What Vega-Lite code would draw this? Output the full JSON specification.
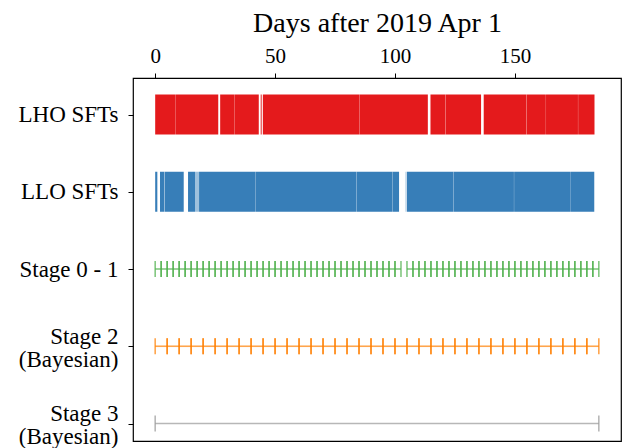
{
  "$schema": "https://vega.github.io/schema/vega-lite/v6.json",
  "autosize": {"type": "none"},
  "padding": {"left": 133, "top": 78, "right": 7, "bottom": 7},
  "width": 488,
  "height": 363,
  "background": "white",
  "config": {
    "view": {"stroke": "black", "strokeWidth": 1.2},
    "font": "Liberation Serif"
  },
  "datasets": {
    "sft": [
      {"track": "LHO SFTs", "start": 0, "end": 8.3},
      {"track": "LHO SFTs", "start": 8.38, "end": 26.3},
      {"track": "LHO SFTs", "start": 27.1, "end": 33.15},
      {"track": "LHO SFTs", "start": 33.23, "end": 43.2},
      {"track": "LHO SFTs", "start": 44.0, "end": 44.4},
      {"track": "LHO SFTs", "start": 44.9, "end": 85.25},
      {"track": "LHO SFTs", "start": 85.33, "end": 113.7},
      {"track": "LHO SFTs", "start": 114.8, "end": 121.0},
      {"track": "LHO SFTs", "start": 121.08, "end": 135.9},
      {"track": "LHO SFTs", "start": 137.0, "end": 154.8},
      {"track": "LHO SFTs", "start": 154.88, "end": 162.9},
      {"track": "LHO SFTs", "start": 162.98, "end": 176.3},
      {"track": "LHO SFTs", "start": 176.38, "end": 183.2},
      {"track": "LLO SFTs", "start": 0, "end": 0.9},
      {"track": "LLO SFTs", "start": 2.0, "end": 3.8},
      {"track": "LLO SFTs", "start": 3.95, "end": 11.9},
      {"track": "LLO SFTs", "start": 13.7, "end": 16.6},
      {"track": "LLO SFTs", "start": 16.75, "end": 16.95},
      {"track": "LLO SFTs", "start": 17.15, "end": 17.35},
      {"track": "LLO SFTs", "start": 17.55, "end": 17.75},
      {"track": "LLO SFTs", "start": 17.95, "end": 18.15},
      {"track": "LLO SFTs", "start": 18.3, "end": 41.9},
      {"track": "LLO SFTs", "start": 41.98, "end": 83.95},
      {"track": "LLO SFTs", "start": 84.03, "end": 99.0},
      {"track": "LLO SFTs", "start": 99.08, "end": 101.7},
      {"track": "LLO SFTs", "start": 104.5, "end": 104.6},
      {"track": "LLO SFTs", "start": 104.9, "end": 124.3},
      {"track": "LLO SFTs", "start": 124.38, "end": 149.6},
      {"track": "LLO SFTs", "start": 149.68, "end": 173.3},
      {"track": "LLO SFTs", "start": 173.38, "end": 183.1}
    ],
    "stages": [
      {"track": "Stage 0 - 1", "start": 0, "end": 2.5},
      {"track": "Stage 0 - 1", "start": 2.5, "end": 5},
      {"track": "Stage 0 - 1", "start": 5, "end": 7.5},
      {"track": "Stage 0 - 1", "start": 7.5, "end": 10},
      {"track": "Stage 0 - 1", "start": 10, "end": 12.5},
      {"track": "Stage 0 - 1", "start": 12.5, "end": 15},
      {"track": "Stage 0 - 1", "start": 15, "end": 17.5},
      {"track": "Stage 0 - 1", "start": 17.5, "end": 20},
      {"track": "Stage 0 - 1", "start": 20, "end": 22.5},
      {"track": "Stage 0 - 1", "start": 22.5, "end": 25},
      {"track": "Stage 0 - 1", "start": 25, "end": 27.5},
      {"track": "Stage 0 - 1", "start": 27.5, "end": 30},
      {"track": "Stage 0 - 1", "start": 30, "end": 32.5},
      {"track": "Stage 0 - 1", "start": 32.5, "end": 35},
      {"track": "Stage 0 - 1", "start": 35, "end": 37.5},
      {"track": "Stage 0 - 1", "start": 37.5, "end": 40},
      {"track": "Stage 0 - 1", "start": 40, "end": 42.5},
      {"track": "Stage 0 - 1", "start": 42.5, "end": 45},
      {"track": "Stage 0 - 1", "start": 45, "end": 47.5},
      {"track": "Stage 0 - 1", "start": 47.5, "end": 50},
      {"track": "Stage 0 - 1", "start": 50, "end": 52.5},
      {"track": "Stage 0 - 1", "start": 52.5, "end": 55},
      {"track": "Stage 0 - 1", "start": 55, "end": 57.5},
      {"track": "Stage 0 - 1", "start": 57.5, "end": 60},
      {"track": "Stage 0 - 1", "start": 60, "end": 62.5},
      {"track": "Stage 0 - 1", "start": 62.5, "end": 65},
      {"track": "Stage 0 - 1", "start": 65, "end": 67.5},
      {"track": "Stage 0 - 1", "start": 67.5, "end": 70},
      {"track": "Stage 0 - 1", "start": 70, "end": 72.5},
      {"track": "Stage 0 - 1", "start": 72.5, "end": 75},
      {"track": "Stage 0 - 1", "start": 75, "end": 77.5},
      {"track": "Stage 0 - 1", "start": 77.5, "end": 80},
      {"track": "Stage 0 - 1", "start": 80, "end": 82.5},
      {"track": "Stage 0 - 1", "start": 82.5, "end": 85},
      {"track": "Stage 0 - 1", "start": 85, "end": 87.5},
      {"track": "Stage 0 - 1", "start": 87.5, "end": 90},
      {"track": "Stage 0 - 1", "start": 90, "end": 92.5},
      {"track": "Stage 0 - 1", "start": 92.5, "end": 95},
      {"track": "Stage 0 - 1", "start": 95, "end": 97.5},
      {"track": "Stage 0 - 1", "start": 97.5, "end": 100},
      {"track": "Stage 0 - 1", "start": 100, "end": 102.5},
      {"track": "Stage 0 - 1", "start": 105, "end": 107.5},
      {"track": "Stage 0 - 1", "start": 107.5, "end": 110},
      {"track": "Stage 0 - 1", "start": 110, "end": 112.5},
      {"track": "Stage 0 - 1", "start": 112.5, "end": 115},
      {"track": "Stage 0 - 1", "start": 115, "end": 117.5},
      {"track": "Stage 0 - 1", "start": 117.5, "end": 120},
      {"track": "Stage 0 - 1", "start": 120, "end": 122.5},
      {"track": "Stage 0 - 1", "start": 122.5, "end": 125},
      {"track": "Stage 0 - 1", "start": 125, "end": 127.5},
      {"track": "Stage 0 - 1", "start": 127.5, "end": 130},
      {"track": "Stage 0 - 1", "start": 130, "end": 132.5},
      {"track": "Stage 0 - 1", "start": 132.5, "end": 135},
      {"track": "Stage 0 - 1", "start": 135, "end": 137.5},
      {"track": "Stage 0 - 1", "start": 137.5, "end": 140},
      {"track": "Stage 0 - 1", "start": 140, "end": 142.5},
      {"track": "Stage 0 - 1", "start": 142.5, "end": 145},
      {"track": "Stage 0 - 1", "start": 145, "end": 147.5},
      {"track": "Stage 0 - 1", "start": 147.5, "end": 150},
      {"track": "Stage 0 - 1", "start": 150, "end": 152.5},
      {"track": "Stage 0 - 1", "start": 152.5, "end": 155},
      {"track": "Stage 0 - 1", "start": 155, "end": 157.5},
      {"track": "Stage 0 - 1", "start": 157.5, "end": 160},
      {"track": "Stage 0 - 1", "start": 160, "end": 162.5},
      {"track": "Stage 0 - 1", "start": 162.5, "end": 165},
      {"track": "Stage 0 - 1", "start": 165, "end": 167.5},
      {"track": "Stage 0 - 1", "start": 167.5, "end": 170},
      {"track": "Stage 0 - 1", "start": 170, "end": 172.5},
      {"track": "Stage 0 - 1", "start": 172.5, "end": 175},
      {"track": "Stage 0 - 1", "start": 175, "end": 177.5},
      {"track": "Stage 0 - 1", "start": 177.5, "end": 180},
      {"track": "Stage 0 - 1", "start": 180, "end": 182.5},
      {"track": "Stage 0 - 1", "start": 182.5, "end": 185},
      {"track": "Stage 2 (Bayesian)", "start": 0, "end": 5},
      {"track": "Stage 2 (Bayesian)", "start": 5, "end": 10},
      {"track": "Stage 2 (Bayesian)", "start": 10, "end": 15},
      {"track": "Stage 2 (Bayesian)", "start": 15, "end": 20},
      {"track": "Stage 2 (Bayesian)", "start": 20, "end": 25},
      {"track": "Stage 2 (Bayesian)", "start": 25, "end": 30},
      {"track": "Stage 2 (Bayesian)", "start": 30, "end": 35},
      {"track": "Stage 2 (Bayesian)", "start": 35, "end": 40},
      {"track": "Stage 2 (Bayesian)", "start": 40, "end": 45},
      {"track": "Stage 2 (Bayesian)", "start": 45, "end": 50},
      {"track": "Stage 2 (Bayesian)", "start": 50, "end": 55},
      {"track": "Stage 2 (Bayesian)", "start": 55, "end": 60},
      {"track": "Stage 2 (Bayesian)", "start": 60, "end": 65},
      {"track": "Stage 2 (Bayesian)", "start": 65, "end": 70},
      {"track": "Stage 2 (Bayesian)", "start": 70, "end": 75},
      {"track": "Stage 2 (Bayesian)", "start": 75, "end": 80},
      {"track": "Stage 2 (Bayesian)", "start": 80, "end": 85},
      {"track": "Stage 2 (Bayesian)", "start": 85, "end": 90},
      {"track": "Stage 2 (Bayesian)", "start": 90, "end": 95},
      {"track": "Stage 2 (Bayesian)", "start": 95, "end": 100},
      {"track": "Stage 2 (Bayesian)", "start": 100, "end": 105},
      {"track": "Stage 2 (Bayesian)", "start": 105, "end": 110},
      {"track": "Stage 2 (Bayesian)", "start": 110, "end": 115},
      {"track": "Stage 2 (Bayesian)", "start": 115, "end": 120},
      {"track": "Stage 2 (Bayesian)", "start": 120, "end": 125},
      {"track": "Stage 2 (Bayesian)", "start": 125, "end": 130},
      {"track": "Stage 2 (Bayesian)", "start": 130, "end": 135},
      {"track": "Stage 2 (Bayesian)", "start": 135, "end": 140},
      {"track": "Stage 2 (Bayesian)", "start": 140, "end": 145},
      {"track": "Stage 2 (Bayesian)", "start": 145, "end": 150},
      {"track": "Stage 2 (Bayesian)", "start": 150, "end": 155},
      {"track": "Stage 2 (Bayesian)", "start": 155, "end": 160},
      {"track": "Stage 2 (Bayesian)", "start": 160, "end": 165},
      {"track": "Stage 2 (Bayesian)", "start": 165, "end": 170},
      {"track": "Stage 2 (Bayesian)", "start": 170, "end": 175},
      {"track": "Stage 2 (Bayesian)", "start": 175, "end": 180},
      {"track": "Stage 2 (Bayesian)", "start": 180, "end": 185},
      {"track": "Stage 3 (Bayesian)", "start": 0, "end": 185}
    ]
  },
  "encoding": {
    "y": {
      "field": "track",
      "type": "nominal",
      "scale": {
        "type": "point",
        "domain": ["LHO SFTs", "LLO SFTs", "Stage 0 - 1", "Stage 2 (Bayesian)", "Stage 3 (Bayesian)"],
        "range": [36.5, 345.5],
        "padding": 0
      },
      "axis": {
        "title": null,
        "orient": "left",
        "domain": false,
        "grid": false,
        "ticks": true,
        "tickSize": 5,
        "tickColor": "black",
        "tickWidth": 1,
        "labelFont": "Liberation Serif",
        "labelFontSize": 23,
        "labelColor": "black",
        "labelPadding": 10,
        "labelAlign": "right",
        "labelLineHeight": 23,
        "labelOffset": {"condition": {"test": "indexof(datum.value, 'Bayesian') >= 0", "value": -10}, "value": 0},
        "labelExpr": "datum.label == 'Stage 2 (Bayesian)' ? ['Stage 2', '(Bayesian)'] : datum.label == 'Stage 3 (Bayesian)' ? ['Stage 3', '(Bayesian)'] : datum.label"
      }
    },
    "color": {
      "field": "track",
      "type": "nominal",
      "legend": null,
      "scale": {
        "domain": ["LHO SFTs", "LLO SFTs", "Stage 0 - 1", "Stage 2 (Bayesian)", "Stage 3 (Bayesian)"],
        "range": ["#e41a1c", "#377eb8", "#4daf4a", "#ff7f00", "#999999"]
      }
    }
  },
  "layer": [
    {
      "data": {"name": "sft"},
      "mark": {"type": "bar", "height": 40, "opacity": 1},
      "encoding": {
        "x": {
          "field": "start",
          "type": "quantitative",
          "scale": {"domain": [-9.25, 194.25], "nice": false, "zero": false},
          "axis": {
            "orient": "top",
            "title": "Days after 2019 Apr 1",
            "values": [0, 50, 100, 150],
            "grid": false,
            "domain": false,
            "tickSize": 5,
            "tickColor": "black",
            "tickWidth": 1,
            "labelFont": "Liberation Serif",
            "labelFontSize": 21,
            "labelColor": "black",
            "labelPadding": 7,
            "titleFont": "Liberation Serif",
            "titleFontSize": 28,
            "titleFontWeight": "normal",
            "titleColor": "black",
            "titlePadding": 8
          }
        },
        "x2": {"field": "end"}
      }
    },
    {
      "data": {"name": "stages"},
      "mark": {"type": "rule", "strokeWidth": 1.6, "opacity": 0.7},
      "encoding": {
        "x": {"field": "start", "type": "quantitative"},
        "x2": {"field": "end"}
      }
    },
    {
      "data": {"name": "stages"},
      "transform": [{"fold": ["start", "end"], "as": ["side", "day"]}],
      "mark": {"type": "tick", "orient": "vertical", "size": 16, "thickness": 1.6, "opacity": 0.7},
      "encoding": {
        "x": {"field": "day", "type": "quantitative"}
      }
    }
  ]
}
